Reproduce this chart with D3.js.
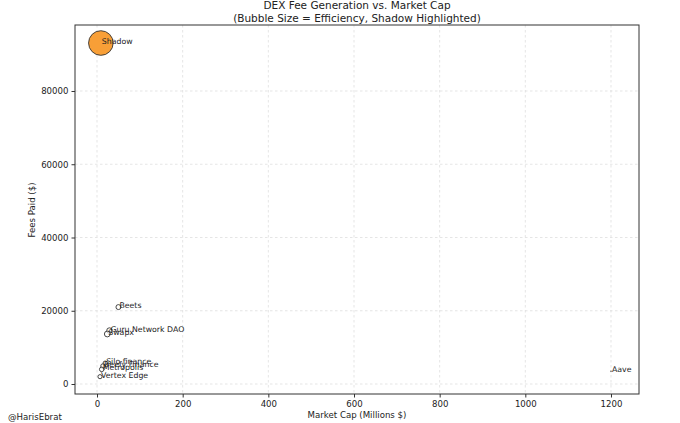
<!DOCTYPE html>
<html>
<head>
<meta charset="utf-8">
<script src="https://cdn.jsdelivr.net/npm/d3@7"></script>
<style>
  html, body { margin: 0; padding: 0; background: #fff; }
  svg { display: block; font-family: "DejaVu Sans", sans-serif; }
</style>
</head>
<body>
<svg id="chart" width="680" height="423"></svg>
<script>
const names = ["Shadow", "Beets", "Guru Network DAO", "Swapx", "Silo finance", "Beefy Finance", "Metropolis", "Vertex Edge", "Aave"];
const marketCap = [9, 50, 29, 24, 19, 14, 11, 7, 1200];
const feesPaid = [93100, 21000, 14600, 13650, 5700, 4900, 4000, 2000, 3500];
const efficiency = [10300, 420, 500, 570, 300, 350, 360, 290, 3];
const highlighted = ["Shadow"];
const xTicks = [0, 200, 400, 600, 800, 1000, 1200];
const yTicks = [0, 20000, 40000, 60000, 80000];

const svg = d3.select("#chart");
const m = { left: 75, right: 639, top: 25, bottom: 394 };

const x = d3.scaleLinear().domain([-51.4, 1265.4]).range([m.left, m.right]);
const y = d3.scaleLinear().domain([-2730, 98020]).range([m.bottom, m.top]);
const r = d3.scaleSqrt().domain([0, 10300]).range([0, 12.3]);

const data = names.map((n, i) => ({ name: n, mc: marketCap[i], fee: feesPaid[i], eff: efficiency[i] }));

// grid
const grid = svg.append("g");
grid.selectAll(".gx").data(xTicks).enter().append("line")
  .attr("x1", d => x(d)).attr("x2", d => x(d))
  .attr("y1", m.top).attr("y2", m.bottom)
  .attr("stroke", "#dedede").attr("stroke-width", 0.8).attr("stroke-dasharray", "2.5,2.5");
grid.selectAll(".gy").data(yTicks).enter().append("line")
  .attr("x1", m.left).attr("x2", m.right)
  .attr("y1", d => y(d)).attr("y2", d => y(d))
  .attr("stroke", "#dedede").attr("stroke-width", 0.8).attr("stroke-dasharray", "2.5,2.5");

// axes
const xAxis = svg.append("g").attr("transform", `translate(0,${m.bottom})`)
  .call(d3.axisBottom(x).tickValues(xTicks).tickFormat(d3.format("d")).tickSize(3.5).tickPadding(3));
const yAxis = svg.append("g").attr("transform", `translate(${m.left},0)`)
  .call(d3.axisLeft(y).tickValues(yTicks).tickFormat(d3.format("d")).tickSize(3.5).tickPadding(3));
[xAxis, yAxis].forEach(a => {
  a.select(".domain").remove();
  a.selectAll("line").attr("stroke", "#333");
  a.selectAll("text").attr("fill", "#222").style("font-size", "8.6px").style("font-family", "DejaVu Sans, sans-serif");
});

// frame
svg.append("rect").attr("x", m.left).attr("y", m.top)
  .attr("width", m.right - m.left).attr("height", m.bottom - m.top)
  .attr("fill", "none").attr("stroke", "#333").attr("stroke-width", 1);

// bubbles
svg.append("g").selectAll("circle").data(data).enter().append("circle")
  .attr("cx", d => x(d.mc)).attr("cy", d => y(d.fee))
  .attr("r", d => Math.max(r(d.eff), 0.3))
  .attr("fill", d => highlighted.includes(d.name) ? "#f89a2c" : "#ffffff")
  .attr("fill-opacity", d => highlighted.includes(d.name) ? 0.95 : 0.6)
  .attr("stroke", "#333").attr("stroke-width", 0.9);

// labels
svg.append("g").selectAll("text").data(data).enter().append("text")
  .attr("x", d => x(d.mc) + 1).attr("y", d => y(d.fee) + 1)
  .attr("fill", "#222").style("font-size", "7.8px")
  .text(d => d.name);

// titles
svg.append("text").attr("x", (m.left + m.right) / 2).attr("y", 9)
  .attr("text-anchor", "middle").attr("fill", "#222").style("font-size", "10.5px")
  .text("DEX Fee Generation vs. Market Cap");
svg.append("text").attr("x", (m.left + m.right) / 2).attr("y", 22)
  .attr("text-anchor", "middle").attr("fill", "#222").style("font-size", "10.5px")
  .text("(Bubble Size = Efficiency, Shadow Highlighted)");

svg.append("text").attr("x", (m.left + m.right) / 2).attr("y", 418)
  .attr("text-anchor", "middle").attr("fill", "#222").style("font-size", "8.6px")
  .text("Market Cap (Millions $)");
svg.append("text").attr("transform", "translate(35,210) rotate(-90)")
  .attr("text-anchor", "middle").attr("fill", "#222").style("font-size", "8.6px")
  .text("Fees Paid ($)");

svg.append("text").attr("x", 8).attr("y", 420)
  .attr("fill", "#222").style("font-size", "8.6px")
  .text("@HarisEbrat");
</script>
</body>
</html>
